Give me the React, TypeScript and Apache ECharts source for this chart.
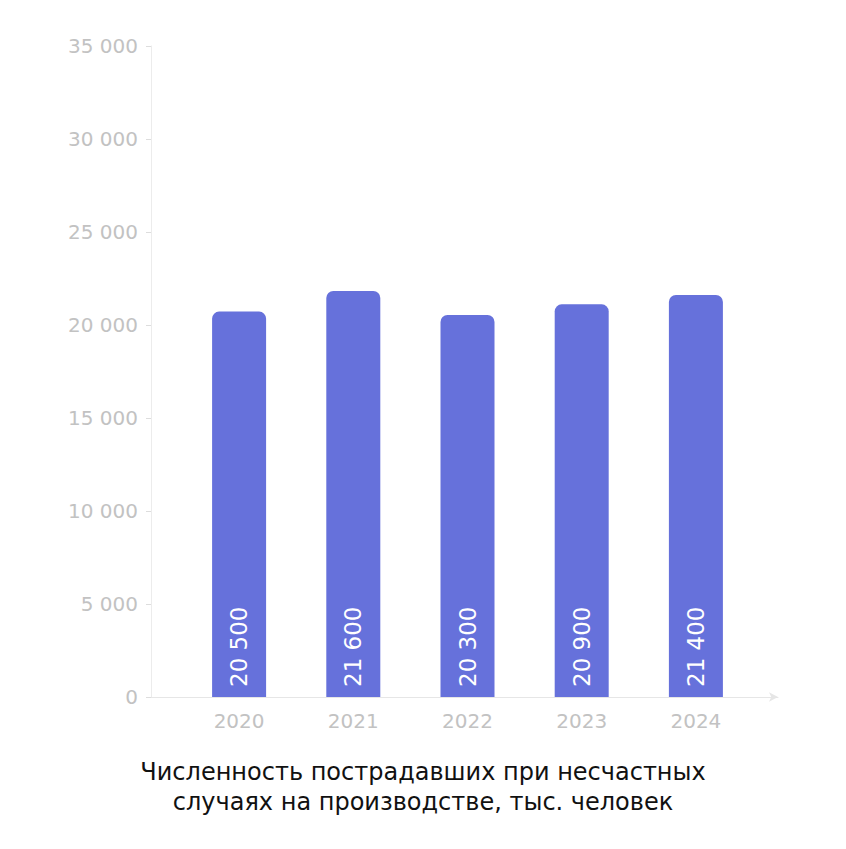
import React, { useEffect, useRef } from "react";
import * as echarts from "echarts";

const categories = ["2020", "2021", "2022", "2023", "2024"];
// bar heights as drawn in the reference
const barValues = [20720, 21830, 20540, 21110, 21610];
// value labels printed on the bars
const barLabels = ["20 500", "21 600", "20 300", "20 900", "21 400"];
const yTicks = [0, 5000, 10000, 15000, 20000, 25000, 30000, 35000];
const titleLines = [
  "Численность пострадавших при несчастных",
  "случаях на производстве, тыс. человек",
];

const FONT = "DejaVu Sans";
const fmt = (v: number) => String(v).replace(/\B(?=(\d{3})+(?!\d))/g, " ");

export default function App() {
  const ref = useRef<HTMLDivElement>(null);
  useEffect(() => {
    document.body.style.margin = "0";
    const chart = echarts.init(ref.current!, null, { renderer: "svg" });
    const top = 46;
    const bottom = 849 - 697;
    chart.setOption({
      animation: false,
      backgroundColor: "#ffffff",
      title: {
        text: titleLines.join("\n"),
        left: "center",
        top: 752,
        textStyle: {
          fontFamily: FONT,
          fontSize: 24,
          fontWeight: "normal",
          color: "#111111",
          lineHeight: 30,
        },
      },
      grid: [
        { left: 151, right: 68, top, bottom },
        { left: 182, right: 93, top, bottom },
      ],
      xAxis: [
        {
          type: "value",
          gridIndex: 0,
          min: 0,
          max: 1,
          axisLine: {
            show: true,
            lineStyle: { color: "#e6e6e6", width: 1 },
            symbol: ["none", "arrow"],
            symbolSize: [7, 9],
          },
          axisTick: { show: false },
          axisLabel: { show: false },
          splitLine: { show: false },
        },
        {
          type: "category",
          gridIndex: 1,
          data: categories,
          axisLine: { show: false },
          axisTick: { show: false },
          axisLabel: {
            color: "#c2c2c2",
            fontFamily: FONT,
            fontSize: 20,
            margin: 14,
          },
        },
      ],
      yAxis: [
        {
          type: "value",
          gridIndex: 0,
          min: yTicks[0],
          max: yTicks[yTicks.length - 1],
          interval: 5000,
          axisLine: { show: true, lineStyle: { color: "#ececec", width: 1 } },
          axisTick: { show: true, length: 5, lineStyle: { color: "#dddddd" } },
          axisLabel: {
            color: "#c2c2c2",
            fontFamily: FONT,
            fontSize: 20,
            margin: 13,
            formatter: (v: number) => fmt(v),
          },
          splitLine: { show: false },
        },
        {
          type: "value",
          gridIndex: 1,
          min: yTicks[0],
          max: yTicks[yTicks.length - 1],
          interval: 5000,
          show: false,
          splitLine: { show: false },
        },
      ],
      series: [
        {
          type: "bar",
          xAxisIndex: 1,
          yAxisIndex: 1,
          data: barValues,
          barWidth: 54,
          itemStyle: { color: "#6671DB", borderRadius: [7, 7, 0, 0] },
          label: {
            show: true,
            position: "insideBottom",
            rotate: 90,
            align: "left",
            verticalAlign: "middle",
            distance: 10,
            color: "#ffffff",
            fontFamily: FONT,
            fontSize: 23,
            formatter: (p: any) => barLabels[p.dataIndex],
          },
        },
      ],
    });
    return () => chart.dispose();
  }, []);
  return <div ref={ref} style={{ width: 846, height: 849 }} />;
}
